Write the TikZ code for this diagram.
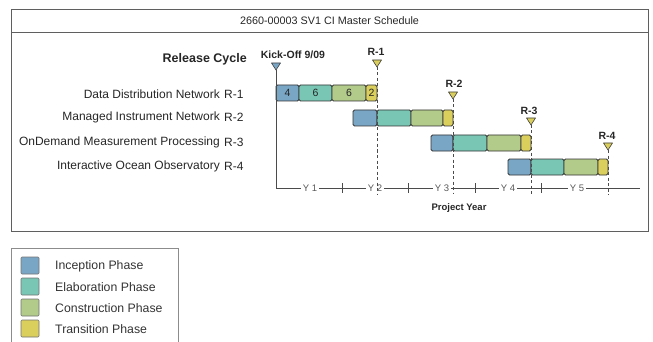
\documentclass[tikz,border=0pt]{standalone}
\usepackage{fontspec}
\setmainfont{Liberation Sans}
\definecolor{inc}{RGB}{122,166,198}
\definecolor{ela}{RGB}{121,198,180}
\definecolor{con}{RGB}{178,202,138}
\definecolor{tra}{RGB}{218,206,92}
\definecolor{framec}{RGB}{95,95,95}
\definecolor{axisc}{RGB}{75,75,75}
\definecolor{yearc}{RGB}{90,90,90}

% one phase block of a release bar: x1, x2, top, colour, text
\newcommand\phaseseg[5]{\draw[seg,fill=#4] (#1,#3) rectangle node[segtext]{#5} (#2,#3+16);}
% downward milestone triangle: name, x, top, colour
\newcommand\milestone[4]{%
  \draw[tri,fill=#4] (#2-4.5,#3) -- (#2+4.5,#3) -- (#2,#3+7) -- cycle;
  \coordinate (#1) at (#2,#3+7);}

\begin{document}
\begin{tikzpicture}[x=1pt,y=-1pt,
  seg/.style={draw=black!80,line width=0.8pt,rounded corners=1.5pt},
  segtext/.style={font=\fontsize{10.5}{10.5}\selectfont,text=black!85,inner sep=0pt},
  tri/.style={draw=black!75,line width=0.6pt,line join=round},
  rowname/.style={anchor=east,font=\fontsize{12}{12}\selectfont,text=black!85,inner sep=0pt},
  rowrel/.style={anchor=west,font=\fontsize{12}{12}\selectfont,text=black!85,inner sep=0pt},
  rlabel/.style={font=\bfseries\fontsize{10.5}{10.5}\selectfont,text=black!85,inner sep=0pt},
  yearlbl/.style={font=\fontsize{9.5}{9.5}\selectfont,text=yearc,fill=white,inner xsep=2pt,inner ysep=1pt},
  guide/.style={draw=axisc,line width=0.6pt,dash pattern=on 3pt off 2.5pt},
  tick/.style={draw=axisc,line width=0.6pt},
  legsq/.style={draw=black!55,line width=0.6pt,rounded corners=1pt},
  legtext/.style={anchor=west,font=\fontsize{12.3}{12.3}\selectfont,text=black!80,inner sep=0pt}]
\useasboundingbox (0,0) rectangle (653,342);

% schedule frame with its title bar
\draw[draw=framec,line width=1pt] (11,10) rectangle (648,231);
\draw[draw=framec,line width=1pt] (11,33) -- (648,33);
\node[font=\fontsize{10.8}{10.8}\selectfont,text=black!85] (title) at (329.5,20.5) {2660-00003 SV1 CI Master Schedule};

% headings
\node[anchor=east,font=\bfseries\fontsize{12.5}{12.5}\selectfont,text=black!85,inner sep=0pt] (relcycle) at (247,59) {Release Cycle};
\node[font=\bfseries\fontsize{10.5}{10.5}\selectfont,text=black!85,inner sep=0pt] (kickoff) at (293,55) {Kick-Off 9/09};

% row labels
\node[rowname] (n1) at (220,94) {Data Distribution Network};
\node[rowrel]  (r1) at (224,94) {R-1};
\node[rowname] (n2) at (220,117.5) {Managed Instrument Network};
\node[rowrel]  (r2) at (224,117.5) {R-2};
\node[rowname] (n3) at (220,142) {OnDemand Measurement Processing};
\node[rowrel]  (r3) at (224,142) {R-3};
\node[rowname] (n4) at (220,166) {Interactive Ocean Observatory};
\node[rowrel]  (r4) at (224,166) {R-4};

% time axis
\coordinate (axisstart) at (276,188);
\coordinate (axisend) at (640,188);
\draw[tick] (axisstart) -- (axisend);
\foreach \x in {342,408,475,541} \draw[tick] (\x,183) -- (\x,193);
\node[yearlbl] (y1) at (310,188) {Y 1};
\node[yearlbl] (y2) at (375,188) {Y 2};
\node[yearlbl] (y3) at (442,188) {Y 3};
\node[yearlbl] (y4) at (508,188) {Y 4};
\node[yearlbl] (y5) at (577,188) {Y 5};
\node[font=\bfseries\fontsize{9.5}{9.5}\selectfont,text=black!85] (projyear) at (459,208) {Project Year};

% milestones
\milestone{k0}{276}{63}{inc}
\milestone{m1}{377}{60}{tra}
\milestone{m2}{453}{92}{tra}
\milestone{m3}{531}{118}{tra}
\milestone{m4}{608}{143}{tra}
\node[rlabel] (lr1) at (376,52) {R-1};
\node[rlabel] (lr2) at (454,84) {R-2};
\node[rlabel] (lr3) at (529,110.5) {R-3};
\node[rlabel] (lr4) at (607,136) {R-4};

% release bars
\phaseseg{276}{299}{85}{inc}{4}
\phaseseg{299}{332}{85}{ela}{6}
\phaseseg{332}{366}{85}{con}{6}
\phaseseg{366}{377}{85}{tra}{2}

\phaseseg{353}{377}{110}{inc}{}
\phaseseg{377}{411}{110}{ela}{}
\phaseseg{411}{443}{110}{con}{}
\phaseseg{443}{453}{110}{tra}{}

\phaseseg{431}{453}{135}{inc}{}
\phaseseg{453}{487}{135}{ela}{}
\phaseseg{487}{521}{135}{con}{}
\phaseseg{521}{531}{135}{tra}{}

\phaseseg{508}{531}{159}{inc}{}
\phaseseg{531}{564}{159}{ela}{}
\phaseseg{564}{598}{159}{con}{}
\phaseseg{598}{608}{159}{tra}{}

% kick-off line and release guides
\coordinate (a0) at (276,188);
\coordinate (a1) at (377,195);
\coordinate (a2) at (453,193);
\coordinate (a3) at (531,195);
\coordinate (a4) at (608,195);
\draw[tick] (k0) -- (a0);
\draw[guide] (m1) -- (a1);
\draw[guide] (m2) -- (a2);
\draw[guide] (m3) -- (a3);
\draw[guide] (m4) -- (a4);

% legend
\draw[draw=black!45,line width=0.8pt] (11,248) rectangle (178,346);
\draw[legsq,fill=inc] (21,257) rectangle (39,274);
\draw[legsq,fill=ela] (21,278) rectangle (39,295);
\draw[legsq,fill=con] (21,299) rectangle (39,316);
\draw[legsq,fill=tra] (21,320) rectangle (39,337);
\node[legtext] (l1) at (55,266) {Inception Phase};
\node[legtext] (l2) at (55,287) {Elaboration Phase};
\node[legtext] (l3) at (55,308) {Construction Phase};
\node[legtext] (l4) at (55,329) {Transition Phase};
\end{tikzpicture}
\end{document}
